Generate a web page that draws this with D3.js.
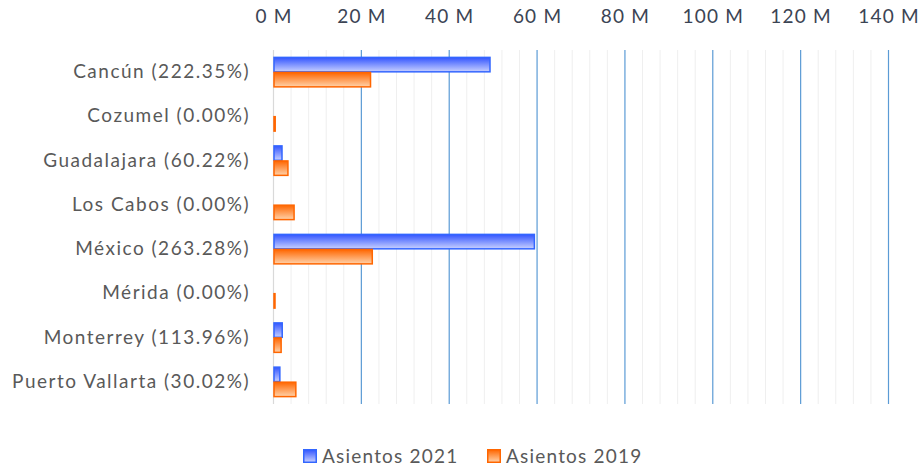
<!DOCTYPE html>
<html>
<head>
    <meta charset="utf-8">
    <script src="https://d3js.org/d3.v7.min.js" charset="utf-8"></script>
    <style>
        body { margin: 0; background: #fff; }
        text { font-family: Lato, "Open Sans", sans-serif; }
    </style>
</head>
<body>
    <script>
        // data (millions of seats)
        var categories = ["Cancún (222.35%)", "Cozumel (0.00%)", "Guadalajara (60.22%)", "Los Cabos (0.00%)",
            "México (263.28%)", "Mérida (0.00%)", "Monterrey (113.96%)", "Puerto Vallarta (30.02%)"];
        var asientos2021 = [49.4, 0, 2.05, 0, 59.5, 0, 2.1, 1.56];
        var asientos2019 = [22.2, 0.5, 3.4, 4.8, 22.6, 0.35, 1.85, 5.2];
        var seriesNames = ["Asientos 2021", "Asientos 2019"];
        var majorTicks = [0, 20, 40, 60, 80, 100, 120, 140];

        var W = 922, H = 469;
        var svg = d3.select("body").append("svg")
            .attr("width", W)
            .attr("height", H);

        var defs = svg.append("defs");
        var grads = [
            { id: "gBlue", top: "#3355ff", bot: "#c8d0ff" },
            { id: "gOrange", top: "#ff6600", bot: "#ffd2aa" }
        ];
        grads.forEach(function (g) {
            var lg = defs.append("linearGradient").attr("id", g.id)
                .attr("x1", 0).attr("y1", 0).attr("x2", 0).attr("y2", 1);
            lg.append("stop").attr("offset", "0%").attr("stop-color", g.top);
            lg.append("stop").attr("offset", "100%").attr("stop-color", g.bot);
        });
        var strokes = ["#3366ff", "#ff6600"];

        var x = d3.scaleLinear().domain([0, 140]).range([273.5, 888.5]);
        var y = d3.scaleBand().domain(categories).range([50, 404]).paddingInner(0.3).paddingOuter(0.15);

        // minor grid every 4M
        svg.append("g").selectAll("line")
            .data(d3.range(0, 141, 4).filter(function (v) { return v % 20 !== 0; }))
            .enter().append("line")
            .attr("x1", function (d) { return x(d); }).attr("x2", function (d) { return x(d); })
            .attr("y1", 50).attr("y2", 404)
            .style("stroke", "#efefef").style("stroke-width", 1);

        // major grid
        svg.append("g").selectAll("line")
            .data(majorTicks.slice(1))
            .enter().append("line")
            .attr("x1", function (d) { return x(d); }).attr("x2", function (d) { return x(d); })
            .attr("y1", 50).attr("y2", 404)
            .style("stroke", "#5b9bd5").style("stroke-width", 1.2);

        // zero axis line
        svg.append("line")
            .attr("x1", x(0)).attr("x2", x(0)).attr("y1", 50).attr("y2", 404)
            .style("stroke", "#d9d9d9").style("stroke-width", 1.2);

        // top axis
        var xAxis = svg.append("g")
            .attr("transform", "translate(0,26)")
            .call(d3.axisTop(x).tickValues(majorTicks).tickSize(0).tickFormat(function (d) { return d + " M"; }));
        xAxis.select(".domain").remove();
        xAxis.selectAll("text")
            .style("font-size", "19px").style("fill", "#3b4454")
            .style("letter-spacing", "1.2px")
            .style("font-family", "Lato, sans-serif");

        // category labels
        var yAxis = svg.append("g")
            .attr("transform", "translate(250,0)")
            .call(d3.axisLeft(y).tickSize(0).tickPadding(0));
        yAxis.select(".domain").remove();
        yAxis.selectAll("text")
            .style("font-size", "19px").style("fill", "#595959")
            .style("letter-spacing", "1.5px")
            .style("font-family", "Lato, sans-serif");

        var sub = d3.scaleBand().domain([0, 1]).range([0, y.bandwidth()]).paddingInner(-0.06);

        var series = [asientos2021, asientos2019];
        series.forEach(function (vals, si) {
            svg.append("g").selectAll("rect")
                .data(vals.map(function (v, i) { return { cat: categories[i], v: v }; })
                    .filter(function (d) { return d.v > 0; }))
                .enter().append("rect")
                .attr("x", x(0) + 0.5)
                .attr("y", function (d) { return y(d.cat) + sub(si) + 0.75; })
                .attr("width", function (d) { return Math.max(1, x(d.v) - x(0) - 1); })
                .attr("height", sub.bandwidth() - 1.5)
                .style("fill", "url(#" + grads[si].id + ")")
                .style("stroke", strokes[si])
                .style("stroke-width", 1.5);
        });

        // legend
        var legend = svg.append("g").attr("transform", "translate(303,449)");
        var lx = [0, 184];
        seriesNames.forEach(function (name, i) {
            var g = legend.append("g").attr("transform", "translate(" + lx[i] + ",0)");
            g.append("rect").attr("x", 0.75).attr("y", 0.75).attr("width", 12.5).attr("height", 12.5)
                .style("fill", "url(#" + grads[i].id + ")")
                .style("stroke", strokes[i]).style("stroke-width", 1.5);
            g.append("text").attr("x", 19).attr("y", 14)
                .style("font-size", "19px").style("fill", "#595959")
                .style("letter-spacing", "1.2px")
                .text(name);
        });
    </script>
</body>
</html>
